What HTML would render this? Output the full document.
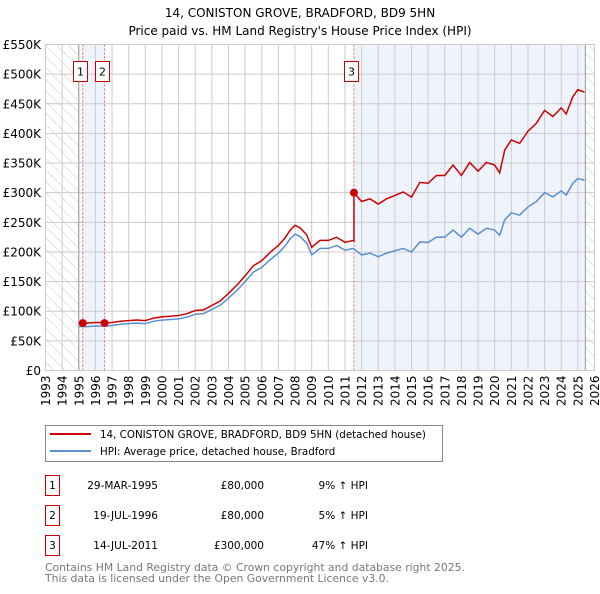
<!DOCTYPE html>
<html><head><meta charset="utf-8">
<style>
body{margin:0;background:#fff;width:600px;height:590px;overflow:hidden;font-family:"DejaVu Sans","Liberation Sans",sans-serif;}
svg text{font-family:"DejaVu Sans","Liberation Sans",sans-serif;}
</style></head>
<body>
<svg id="chart" width="600" height="590" xmlns="http://www.w3.org/2000/svg">
<defs>
<pattern id="hatch" patternUnits="userSpaceOnUse" width="8" height="8" patternTransform="rotate(-45)">
<line x1="0" y1="0" x2="0" y2="8" stroke="#ccc" stroke-width="1"/>
</pattern>
</defs>
<text x="300" y="17" text-anchor="middle" font-size="12">14, CONISTON GROVE, BRADFORD, BD9 5HN</text>
<text x="300" y="35" text-anchor="middle" font-size="12">Price paid vs. HM Land Registry's House Price Index (HPI)</text>
<g id="plot"></g>
<g>
<rect x="45.5" y="425.5" width="397" height="36" fill="#fff" stroke="#888"/>
<line x1="50" y1="434" x2="91" y2="434" stroke="#cc0000" stroke-width="2"/>
<text x="100" y="438" font-size="10.3">14, CONISTON GROVE, BRADFORD, BD9 5HN (detached house)</text>
<line x1="50" y1="451" x2="91" y2="451" stroke="#5b8fd0" stroke-width="2"/>
<text x="100" y="455" font-size="10.3">HPI: Average price, detached house, Bradford</text>
</g>
<g id="table" font-size="10.5"></g>
<text x="45" y="571" font-size="10.8" fill="#777">Contains HM Land Registry data © Crown copyright and database right 2025.</text>
<text x="45" y="582" font-size="10.8" fill="#777">This data is licensed under the Open Government Licence v3.0.</text>
</svg>
<script>
const hpiYears=[1995.0,1995.5,1996,1996.5,1997,1997.5,1998,1998.5,1999,1999.5,2000,2000.5,2001,2001.5,2002,2002.5,2003,2003.5,2004,2004.5,2005,2005.5,2006,2006.5,2007,2007.4,2007.7,2008.0,2008.3,2008.7,2009,2009.5,2010,2010.5,2011,2011.5,2012,2012.5,2013,2013.5,2014,2014.5,2015,2015.5,2016,2016.5,2017,2017.5,2018,2018.5,2019,2019.5,2020,2020.3,2020.6,2021,2021.5,2022,2022.5,2023,2023.5,2024,2024.3,2024.7,2025,2025.4];
const hpiValues=[74,74,75,75,76,78,79,80,79,83,85,86,87,90,95,96,103,110,122,135,150,166,174,187,198,210,222,230,226,215,195,206,206,211,203,206,195,198,192,198,202,206,200,217,216,225,225,237,225,240,230,240,237,228,254,266,262,276,285,300,293,303,296,316,324,321];
const saleYears=[1995.24,1996.55,2011.54];
const salePrices=[80000,80000,300000];
const saleLabels=["1","2","3"];
const saleDates=["29-MAR-1995","19-JUL-1996","14-JUL-2011"];
const salePriceText=["£80,000","£80,000","£300,000"];
const saleHpiText=["9% ↑ HPI","5% ↑ HPI","47% ↑ HPI"];
const yTicks=[0,50,100,150,200,250,300,350,400,450,500,550];
const yTickLabels=["£0","£50K","£100K","£150K","£200K","£250K","£300K","£350K","£400K","£450K","£500K","£550K"];
const xTicks=[1993,1994,1995,1996,1997,1998,1999,2000,2001,2002,2003,2004,2005,2006,2007,2008,2009,2010,2011,2012,2013,2014,2015,2016,2017,2018,2019,2020,2021,2022,2023,2024,2025,2026];

const NS="http://www.w3.org/2000/svg";
const X0=45.5,X1=594.5,Y0=370.5,Y1=44.5;
const xs=y=>X0+(y-1993)/(2026-1993)*(X1-X0);
const ys=v=>Y0-v/550*(Y0-Y1);
const plot=document.getElementById('plot');
function mk(tag,attrs,parent){const e=document.createElementNS(NS,tag);for(const k in attrs)e.setAttribute(k,attrs[k]);(parent||plot).appendChild(e);return e;}
function hpiAt(t){if(t<=hpiYears[0])return hpiValues[0];for(let i=1;i<hpiYears.length;i++){if(t<=hpiYears[i]){const f=(t-hpiYears[i-1])/(hpiYears[i]-hpiYears[i-1]);return hpiValues[i-1]+f*(hpiValues[i]-hpiValues[i-1]);}}return hpiValues[hpiValues.length-1];}

let r;
r=mk('rect',{x:xs(saleYears[0]),y:Y1,width:xs(saleYears[1])-xs(saleYears[0]),height:Y0-Y1,fill:'#eef3fc'});


r=mk('rect',{x:xs(saleYears[2]),y:Y1,width:xs(2025.45)-xs(saleYears[2]),height:Y0-Y1,fill:'#eef3fc'});


r=mk('rect',{x:X0,y:Y1,width:xs(1995)-X0,height:Y0-Y1,fill:'url(#hatch)'});


r=mk('rect',{x:xs(2025.45),y:Y1,width:X1-xs(2025.45),height:Y0-Y1,fill:'url(#hatch)'});



yTicks.forEach((v,i)=>{
  const l=mk('line',{x1:X0,x2:X1,y1:ys(v),y2:ys(v),stroke:'#ccc'});
  
  
  const t=mk('text',{x:41,y:ys(v)+4.5,'text-anchor':'end','font-size':'12'});
  t.textContent=yTickLabels[i];
  
  
});
xTicks.forEach(y=>{
  const l=mk('line',{x1:xs(y),x2:xs(y),y1:Y1,y2:Y0,stroke:'#ccc'});
  
  
  const t=mk('text',{x:0,y:0,'text-anchor':'end','font-size':'12',transform:`translate(${xs(y)+4.5},${Y0+5}) rotate(-90)`});
  t.textContent=String(y);
  
  
});
r=mk('line',{x1:xs(1995),x2:xs(1995),y1:Y1,y2:Y0,stroke:'#999'});


r=mk('line',{x1:xs(2025.45),x2:xs(2025.45),y1:Y1,y2:Y0,stroke:'#999'});



saleYears.forEach((y,i)=>{
  const l=mk('line',{x1:xs(y),x2:xs(y),y1:Y1,y2:Y0,stroke:'#e06666','stroke-dasharray':'2,2'});
  
  
  const bx=mk('rect',{x:Math.round(xs(y)-10)+0.5,y:61.5,width:14,height:20,fill:'#fff',stroke:'#cc0000'});
  
  
  const t=mk('text',{x:+bx.getAttribute('x')+7,y:75.5,'text-anchor':'middle','font-size':'11'});
  t.textContent=saleLabels[i];
  
  
});

const hp=mk('polyline',{points:hpiYears.map((y,i)=>xs(y)+','+ys(hpiValues[i])).join(' '),fill:'none',stroke:'#5b8fd0','stroke-width':'1.5'});



const pts=[];
function ratioAt(t){let k=0;for(let i=0;i<saleYears.length;i++)if(t>=saleYears[i])k=i;return salePrices[k]/1000/hpiAt(saleYears[k]);}
const allT=hpiYears.concat(saleYears).sort((a,b)=>a-b);
allT.forEach(t=>{
  const si=saleYears.indexOf(t);
  if(si>0){pts.push([t,hpiAt(t)*salePrices[si-1]/1000/hpiAt(saleYears[si-1])]);}
  pts.push([t,hpiAt(t)*ratioAt(t)]);
});
const pl=mk('polyline',{points:pts.map(p=>xs(p[0])+','+ys(p[1])).join(' '),fill:'none',stroke:'#cc0000','stroke-width':'1.5'});


saleYears.forEach((y,i)=>{
  const c=mk('circle',{cx:xs(y),cy:ys(salePrices[i]/1000),r:4,fill:'#cc0000'});
  
  
});
r=mk('rect',{x:X0,y:Y1,width:X1-X0,height:Y0-Y1,fill:'none',stroke:'#ccc'});



const tb=document.getElementById('table');
saleYears.forEach((y,i)=>{
  const yy=475+i*30;
  const b=mk('rect',{x:45.5,y:yy+0.5,width:14,height:20,fill:'#fff',stroke:'#cc0000'},tb);
  
  
  const cols=[[52.5,saleLabels[i],'middle'],[158,saleDates[i],'end'],[264,salePriceText[i],'end'],[368,saleHpiText[i],'end']];
  cols.forEach(c=>{
    const t=mk('text',{x:c[0],y:yy+14,'text-anchor':c[2]},tb);
    t.textContent=c[1];
    
    
  });
});
</script>
</body></html>
